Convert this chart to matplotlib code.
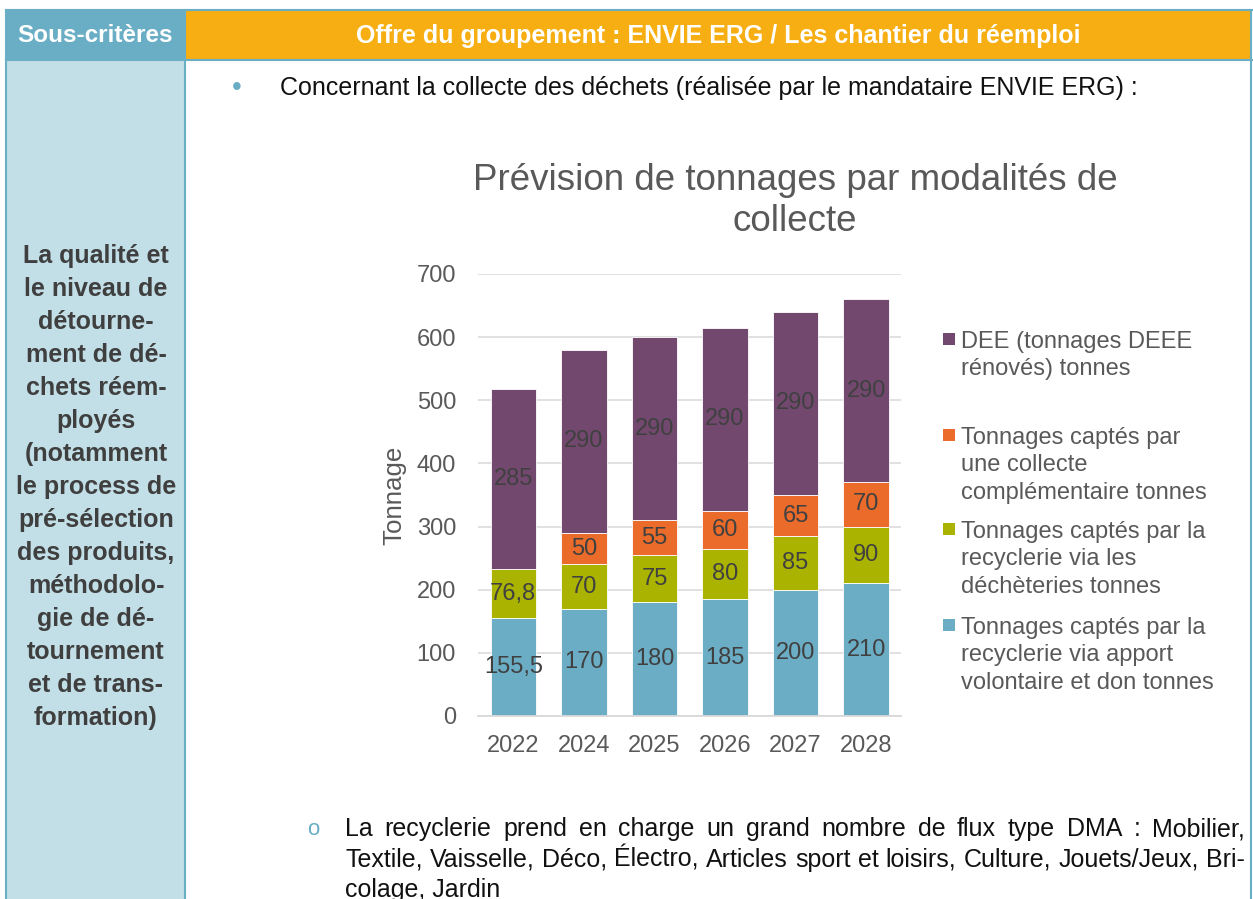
import numpy as np
import matplotlib
matplotlib.use("Agg")
import matplotlib.pyplot as plt
from matplotlib.patches import Rectangle
from matplotlib.lines import Line2D

# data
years       = ["2022", "2024", "2025", "2026", "2027", "2028"]
apport      = [155.5, 170, 180, 185, 200, 210]
decheteries = [76.8, 70, 75, 80, 85, 90]
collecte    = [0, 50, 55, 60, 65, 70]
dee         = [285, 290, 290, 290, 290, 290]

series_names = ["Tonnages captés par la\nrecyclerie via apport\nvolontaire et don tonnes",
                "Tonnages captés par la\nrecyclerie via les\ndéchèteries tonnes",
                "Tonnages captés par\nune collecte\ncomplémentaire tonnes",
                "DEE (tonnages DEEE\nrénovés) tonnes"]
colors = ["#6AADC5", "#AAB400", "#EA6B2A", "#72486F"]

title = "Prévision de tonnages par modalités de\ncollecte"
header_left  = "Sous-critères"
header_right = "Offre du groupement : ENVIE ERG / Les chantier du réemploi"
criteria_lines = ["La qualité et", "le niveau de", "détourne-", "ment de dé-",
                  "chets réem-", "ployés", "(notamment", "le process de",
                  "pré-sélection", "des produits,", "méthodolo-", "gie de dé-",
                  "tournement", "et de trans-", "formation)"]
bullet_text = "Concernant la collecte des déchets (réalisée par le mandataire ENVIE ERG) :"
sub_lines = ["La recyclerie prend en charge un grand nombre de flux type DMA : Mobilier,",
             "Textile, Vaisselle, Déco, Électro, Articles sport et loisirs, Culture, Jouets/Jeux, Bri-",
             "colage, Jardin"]

plt.rcParams['font.family'] = ['Liberation Sans', 'DejaVu Sans']

W, H = 1253, 899
def fx(x): return x / W
def fy(y): return 1 - y / H

fig = plt.figure(figsize=(W / 100, H / 100), dpi=100)
renderer = fig.canvas.get_renderer()

blue   = "#6AAEC6"
orange = "#F6AE12"
light  = "#C2DEE6"

def rect(x0, y0, x1, y1, color):
    fig.add_artist(Rectangle((fx(x0), fy(y1)), (x1 - x0) / W, (y1 - y0) / H,
                             transform=fig.transFigure, facecolor=color,
                             edgecolor="none", zorder=0.5))

def line(xs, ys, color=blue, lw=1.5):
    fig.add_artist(Line2D([fx(x) for x in xs], [fy(y) for y in ys],
                          transform=fig.transFigure, color=color, lw=lw, zorder=1))

# table frame
rect(6, 10, 185, 60, blue)
rect(185, 10, 1251, 60, orange)
rect(6, 60, 185, 899, light)
line([6, 1252], [10, 10])
line([6, 1252], [59.5, 59.5])
line([6, 6], [10, 899])
line([185, 185], [10, 899])
line([1251, 1251], [10, 899])

fig.text(fx(95), fy(36), header_left, ha="center", va="center",
         fontsize=17.5, fontweight="bold", color="white")
fig.text(fx(718), fy(36), header_right, ha="center", va="center",
         fontsize=18, fontweight="bold", color="white")
fig.text(fx(96), fy(487), "\n".join(criteria_lines), ha="center", va="center",
         multialignment="center", fontsize=18, fontweight="bold",
         color="#3F3F3F", linespacing=1.47)

# bullet texts
fig.text(fx(237), fy(88), "•", ha="center", va="center", fontsize=20, color=blue)
fig.text(fx(280), fy(95), bullet_text, ha="left", va="baseline",
         fontsize=18, color="#111111")

fig.text(fx(313), fy(835), "o", ha="center", va="baseline", fontsize=16, color=blue)

def justified(text, y, x0=345, x1=1245):
    words = text.split(" ")
    ts = [fig.text(0, fy(y), w, ha="left", va="baseline", fontsize=18,
                   color="#111111") for w in words]
    ws = [t.get_window_extent(renderer).width for t in ts]
    gap = (x1 - x0 - sum(ws)) / (len(ws) - 1)
    x = x0
    for t, w in zip(ts, ws):
        t.set_x(fx(x))
        x += w + gap

justified(sub_lines[0], 836)
justified(sub_lines[1], 867)
fig.text(fx(345), fy(897), sub_lines[2], ha="left", va="baseline",
         fontsize=18, color="#111111")

# chart
ax = fig.add_axes([fx(478), fy(716), (901.5 - 478) / W, (716 - 274) / H])
x = np.arange(len(years))
bottom = np.zeros(len(years))
for vals, c in zip([apport, decheteries, collecte, dee], colors):
    bars = ax.bar(x, vals, 0.645, bottom=bottom, color=c,
                  edgecolor="white", linewidth=0.6, zorder=2)
    labels = [f"{v:g}".replace(".", ",") if v else "" for v in vals]
    ax.bar_label(bars, labels=labels, label_type="center",
                 fontsize=17, color="#404040")
    bottom += np.array(vals)

ax.set_xlim(-0.5, 5.5)
ax.set_ylim(0, 700)
ax.set_yticks(range(0, 701, 100))
ax.set_xticks(x, years)
ax.grid(axis="y", color="#D9D9D9", lw=1.1)
ax.set_axisbelow(True)
for s in ["top", "right", "left"]:
    ax.spines[s].set_visible(False)
ax.spines["bottom"].set_color("#D9D9D9")
ax.spines["bottom"].set_linewidth(1.3)
ax.tick_params(length=0, labelsize=17, labelcolor="#595959")
ax.tick_params(axis="y", pad=15.8)
ax.tick_params(axis="x", pad=13.7)
ax.set_ylabel("Tonnage", fontsize=18.6, color="#595959")
ax.yaxis.set_label_coords(-0.168, 0.5)

fig.text(fx(795), fy(201), title, ha="center", va="center",
         fontsize=26.5, color="#595959", linespacing=1.2)

# legend, top entry first
legend_y = [340, 436, 530, 626]
for name, c, y in zip(series_names[::-1], colors[::-1], legend_y):
    fig.add_artist(Rectangle((fx(943), fy(y + 5)), 12 / W, 12 / H,
                             transform=fig.transFigure, facecolor=c,
                             edgecolor="none"))
    fig.text(fx(961), fy(y - 9), name, ha="left", va="top", fontsize=17,
             color="#595959", linespacing=1.31)

fig.savefig("out.png", dpi=100)
